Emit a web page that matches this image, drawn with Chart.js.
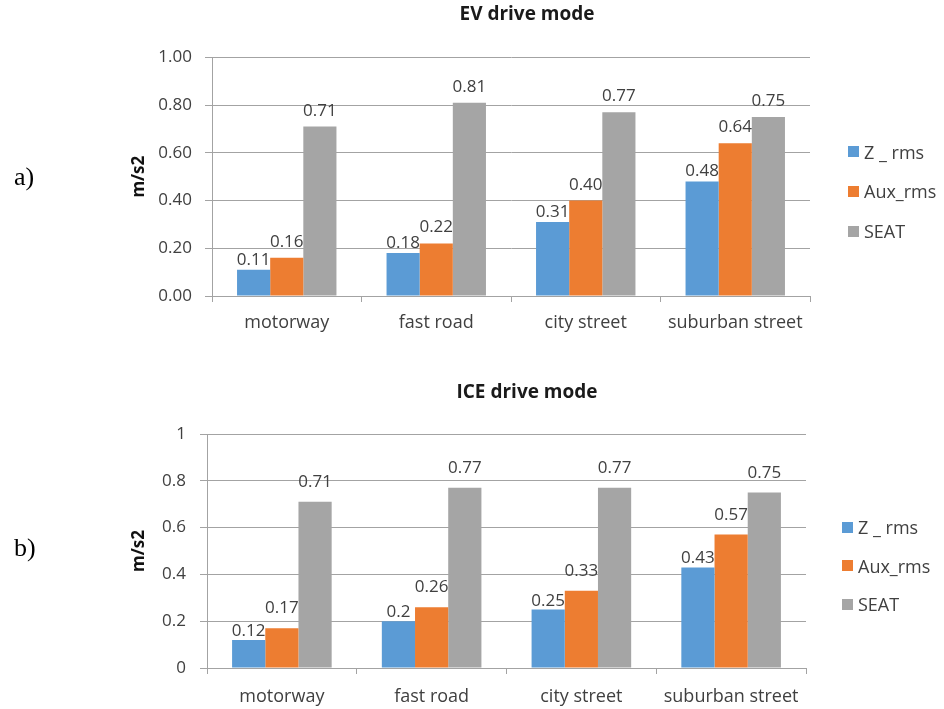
<!DOCTYPE html>
<html><head><meta charset="utf-8">
<script src="https://cdn.jsdelivr.net/npm/chart.js@4.4.1/dist/chart.umd.min.js"></script>
<style>
html,body{margin:0;padding:0;background:#fff;width:944px;height:709px;overflow:hidden;position:relative;font-family:'Open Sans',sans-serif;}
.wrap{position:absolute;left:0;width:944px;}
.tag{position:absolute;font-family:'Liberation Serif',serif;font-size:26px;line-height:30px;color:#000;}
.sw{position:absolute;width:11px;height:11px;}
.lt{position:absolute;font-size:18px;line-height:22px;color:#404040;white-space:nowrap;}
</style></head><body>
<div class="wrap" style="top:0;height:350px"><canvas id="c1" width="944" height="350"></canvas></div>
<div class="wrap" style="top:360px;height:349px"><canvas id="c2" width="944" height="349"></canvas></div>
<div class="tag" style="left:14px;top:162px">a)</div>
<div class="tag" style="left:14px;top:533px">b)</div>
<div id="leg1"></div><div id="leg2"></div>
<script>
// ---- data ----
const categories = ['motorway', 'fast road', 'city street', 'suburban street'];
const seriesNames = ['Z _ rms', 'Aux_rms', 'SEAT'];
const evZ = [0.11, 0.18, 0.31, 0.48];
const evAux = [0.16, 0.22, 0.40, 0.64];
const evSeat = [0.71, 0.81, 0.77, 0.75];
const iceZ = [0.12, 0.20, 0.25, 0.43];
const iceAux = [0.17, 0.26, 0.33, 0.57];
const iceSeat = [0.71, 0.77, 0.77, 0.75];
const tickValues = [0, 0.2, 0.4, 0.6, 0.8, 1];
const evTickLabels = ['0.00', '0.20', '0.40', '0.60', '0.80', '1.00'];
const iceTickLabels = ['0', '0.2', '0.4', '0.6', '0.8', '1'];
const evTitle = 'EV drive mode';
const iceTitle = 'ICE drive mode';
const yTitle = 'm/s2';

// ---- styling ----
const colors = ['#5B9BD5', '#ED7D31', '#A5A5A5'];
const FONT = "'Open Sans', sans-serif";
const GRID = '#a3a3a3';
const TXT = '#404040';

const barLabels = {
  id: 'barLabels',
  afterDatasetsDraw(chart, args, opts) {
    const ctx = chart.ctx;
    ctx.save();
    ctx.font = '17px ' + FONT;
    ctx.fillStyle = TXT;
    ctx.textAlign = 'center';
    ctx.textBaseline = 'alphabetic';
    chart.data.datasets.forEach((ds, di) => {
      const meta = chart.getDatasetMeta(di);
      meta.data.forEach((bar, i) => {
        ctx.fillText(opts.format(ds.data[i]), bar.x, bar.y - opts.offsets[di]);
      });
    });
    ctx.restore();
  }
};

// heading drawn centred at a given x (Excel centres it over the whole chart incl. legend)
const heading = {
  id: 'heading',
  afterDraw(chart, args, opts) {
    const ctx = chart.ctx;
    ctx.save();
    ctx.font = 'bold 19px ' + FONT;
    ctx.fillStyle = '#1a1a1a';
    ctx.textAlign = 'center';
    ctx.textBaseline = 'middle';
    ctx.fillText(opts.text, opts.x, opts.y);
    ctx.restore();
  }
};

function makeChart(id, cfg) {
  const datasets = cfg.series.map((arr, k) => ({
    label: seriesNames[k],
    data: arr,
    backgroundColor: colors[k],
    borderWidth: 0,
    categoryPercentage: 0.665,
    barPercentage: 1.0
  }));
  return new Chart(document.getElementById(id), {
    type: 'bar',
    data: { labels: categories, datasets },
    options: {
      responsive: false,
      animation: false,
      devicePixelRatio: 1,
      layout: { padding: { left: 124, right: cfg.padRight, top: cfg.padTop, bottom: 0 } },
      plugins: {
        legend: { display: false },
        tooltip: { enabled: false },
        title: { display: false },
        heading: { text: cfg.title, x: 527, y: cfg.titleY },
        barLabels: { offsets: cfg.offsets, format: cfg.format }
      },
      scales: {
        x: {
          grid: { display: true, drawOnChartArea: false, drawTicks: true, tickLength: 6, color: GRID, offset: true },
          border: { display: true, color: GRID },
          ticks: { color: TXT, font: { family: FONT, size: 18 }, padding: cfg.xPad, maxRotation: 0 },
          afterFit(s) { s.height = cfg.xHeight; }
        },
        y: {
          min: 0, max: 1,
          afterBuildTicks(s) { s.ticks = tickValues.map(v => ({ value: v })); },
          grid: { color: GRID, drawTicks: true, tickLength: 7 },
          border: { display: true, color: GRID },
          ticks: {
            color: TXT, font: { family: FONT, size: 17 }, padding: cfg.yPad,
            callback: (v, i) => cfg.tickLabels[i]
          },
          title: {
            display: true, text: yTitle, color: '#111',
            font: { family: FONT, size: 17, weight: 'bold' },
            padding: { top: 5, bottom: 0 }
          },
          afterFit(s) { s.width = cfg.yWidth; }
        }
      }
    },
    plugins: [barLabels, heading]
  });
}

makeChart('c1', {
  series: [evZ, evAux, evSeat], title: evTitle, tickLabels: evTickLabels,
  padRight: 134, padTop: 57.3, titleY: 15, xHeight: 54, xPad: 10, yPad: 13, yWidth: 88,
  offsets: [5, 11, 11], format: v => v.toFixed(2)
});
makeChart('c2', {
  series: [iceZ, iceAux, iceSeat], title: iceTitle, tickLabels: iceTickLabels,
  padRight: 138, padTop: 74, titleY: 32.5, xHeight: 41, xPad: 12, yPad: 14, yWidth: 83,
  offsets: [4, 15, 15], format: v => String(v)
});

function htmlLegend(id, x, y0, dy) {
  const el = document.getElementById(id);
  seriesNames.forEach((name, k) => {
    const c = y0 + k * dy;
    const sw = document.createElement('div');
    sw.className = 'sw';
    sw.style.left = x + 'px'; sw.style.top = (c - 5.5) + 'px'; sw.style.background = colors[k];
    const t = document.createElement('div');
    t.className = 'lt';
    t.style.left = (x + 16) + 'px'; t.style.top = (c - 11) + 'px';
    t.textContent = name;
    el.appendChild(sw); el.appendChild(t);
  });
}
htmlLegend('leg1', 848, 151.7, 39.7);
htmlLegend('leg2', 842, 527, 38.5);
</script>
</body></html>
